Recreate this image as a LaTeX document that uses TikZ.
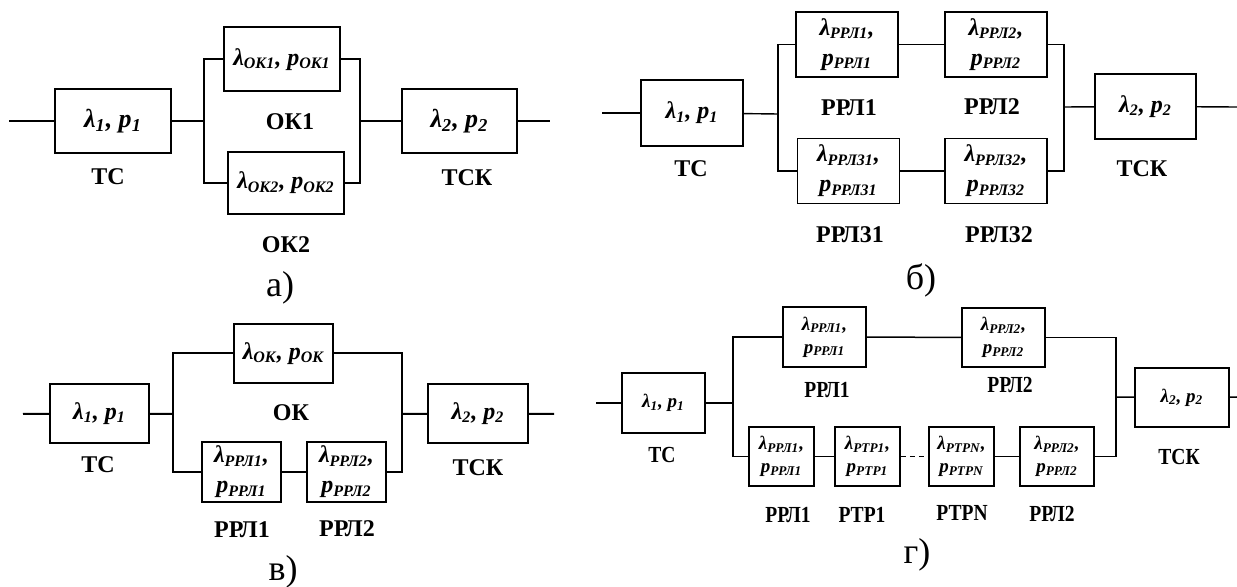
\documentclass[tikz,border=0pt]{standalone}
\usepackage{fontspec}
\setmainfont{Liberation Serif}
\newfontfamily\narrowrm[FakeStretch=0.85]{Liberation Serif}

\newcommand{\lampr}[1]{λ\textsubscript{#1}, p\textsubscript{#1}}
\newcommand{\lamprr}[1]{λ\textsubscript{#1},\\ p\textsubscript{#1}}

\tikzset{
  blk/.style 2 args={draw, line width=1pt, minimum width=#1, minimum height=#2,
    inner sep=1pt, align=center, font=\fontsize{12}{15}\selectfont\bfseries\itshape},
  wire/.style={line width=1pt},
  lbl/.style={font=\fontsize{12}{14}\selectfont\bfseries, inner sep=0pt},
  subcap/.style={font=\fontsize{18}{20}\selectfont, inner sep=0pt},
}

\begin{document}
\begin{tikzpicture}[x=0.5pt,y=-0.5pt]
\useasboundingbox (0,0) rectangle (1237,587);

% a)
\coordinate (a-in) at (9,121);
\coordinate (a-sl) at (204,121);
\coordinate (a-sr) at (360,121);
\coordinate (a-out) at (550,121);
\node[blk={58pt}{32pt}, font=\fontsize{13}{15}\selectfont\bfseries\itshape] (a-ts) at (113,121) {\lampr{1}};
\node[blk={58pt}{32pt}] (a-ok1) at (282,59.5) {\lampr{ОК1}};
\node[blk={58pt}{31pt}] (a-ok2) at (286,183) {\lampr{ОК2}};
\node[blk={57.5pt}{32pt}, font=\fontsize{13}{15}\selectfont\bfseries\itshape] (a-tsk) at (459.5,121) {\lampr{2}};

\draw[wire] (a-in) -- (a-ts);
\draw[wire] (a-ts) -- (a-sl);
\draw[wire] (a-ok1.west) -| (a-sl) |- (a-ok2.west);
\draw[wire] (a-ok1.east) -| (a-sr) |- (a-ok2.east);
\draw[wire] (a-sr) -- (a-tsk);
\draw[wire] (a-tsk) -- (a-out);

\node[lbl] (a-ts-l) at (108,177) {ТС};
\node[lbl] (a-ok1-l) at (290,122) {ОК1};
\node[lbl] (a-ok2-l) at (286,245) {ОК2};
\node[lbl] (a-tsk-l) at (467,178) {ТСК};
\node[subcap] (a-cap) at (280,288) {а)};

% b)
\coordinate (b-in) at (602,113);
\coordinate (b-sl) at (778,114);
\coordinate (b-sr) at (1064,107);
\coordinate (b-out) at (1237,107);
\node[blk={51pt}{33pt}, line width=0.85pt] (b-ts) at (692,113) {\lampr{1}};
\node[blk={51pt}{32.5pt}, line width=0.85pt] (b-r1) at (847,44.5) {\lamprr{РРЛ1}};
\node[blk={51pt}{32.5pt}, line width=0.85pt] (b-r2) at (996,44.5) {\lamprr{РРЛ2}};
\node[blk={51pt}{32.5pt}, line width=0.85pt] (b-r31) at (848.5,171) {\lamprr{РРЛ31}};
\node[blk={51pt}{32.5pt}, line width=0.85pt] (b-r32) at (996,171) {\lamprr{РРЛ32}};
\node[blk={50.5pt}{32.5pt}, line width=0.85pt] (b-tsk) at (1145.5,106.5) {\lampr{2}};

\draw[wire, line width=0.7pt] (b-in) -- (b-ts);
\draw[wire, line width=0.7pt] (b-ts) -- (b-sl);
\draw[wire, line width=0.7pt] (b-r1.west) -| (b-sl) |- (b-r31.west);
\draw[wire, line width=0.7pt] (b-r1) -- (b-r2);
\draw[wire, line width=0.7pt] (b-r31) -- (b-r32);
\draw[wire, line width=0.7pt] (b-r2.east) -| (b-sr) |- (b-r32.east);
\draw[wire, line width=0.7pt] (b-sr) -- (b-tsk);
\draw[wire, line width=0.7pt] (b-tsk) -- (b-out);

\node[lbl] (b-ts-l) at (691,169) {ТС};
\node[lbl] (b-r1-l) at (849,108) {РРЛ1};
\node[lbl] (b-r2-l) at (992,107) {РРЛ2};
\node[lbl] (b-r31-l) at (850,235) {РРЛ31};
\node[lbl] (b-r32-l) at (999,235) {РРЛ32};
\node[lbl] (b-tsk-l) at (1142,169) {ТСК};
\node[subcap] (b-cap) at (921,280) {б)};

% v)
\coordinate (c-in) at (23,414);
\coordinate (c-sl) at (173,414);
\coordinate (c-sr) at (402,414);
\coordinate (c-out) at (554,414);
\node[blk={49.5pt}{29.5pt}] (c-ts) at (99.5,413.5) {\lampr{1}};
\node[blk={49.5pt}{29.5pt}] (c-ok) at (283.5,353.5) {\lampr{ОК}};
\node[blk={39.5pt}{30pt}] (c-r1) at (241.5,472) {\lamprr{РРЛ1}};
\node[blk={39.5pt}{30pt}] (c-r2) at (346.5,472) {\lamprr{РРЛ2}};
\node[blk={50pt}{29.5pt}] (c-tsk) at (478,413.5) {\lampr{2}};

\draw[wire] (c-in) -- (c-ts);
\draw[wire] (c-ts) -- (c-sl);
\draw[wire] (c-ok.west) -| (c-sl) |- (c-r1.west);
\draw[wire] (c-r1) -- (c-r2);
\draw[wire] (c-ok.east) -| (c-sr) |- (c-r2.east);
\draw[wire] (c-sr) -- (c-tsk);
\draw[wire] (c-tsk) -- (c-out);

\node[lbl] (c-ts-l) at (98,465) {ТС};
\node[lbl] (c-ok-l) at (291,413) {ОК};
\node[lbl] (c-r1-l) at (242,530) {РРЛ1};
\node[lbl] (c-r2-l) at (347,529) {РРЛ2};
\node[lbl] (c-tsk-l) at (478,468) {ТСК};
\node[subcap] (c-cap) at (283,572) {в)};

% g)
\tikzset{gblk/.style={line width=0.8pt, font=\fontsize{9.5}{11.5}\selectfont\bfseries\itshape},
  glbl/.style={lbl, font=\narrowrm\fontsize{11.5}{13}\selectfont\bfseries}}
\coordinate (d-in) at (596,403);
\coordinate (d-sl) at (733,403);
\coordinate (d-sr) at (1116,397);
\coordinate (d-out) at (1237,397);
\node[blk={41.5pt}{30pt}, gblk] (d-ts) at (663.5,403) {\lampr{1}};
\node[blk={41.5pt}{30pt}, gblk] (d-t1) at (824.5,337) {\lamprr{РРЛ1}};
\node[blk={41.5pt}{29.5pt}, gblk] (d-t2) at (1003.5,337.5) {\lamprr{РРЛ2}};
\node[blk={32.5pt}{29.5pt}, gblk] (d-b1) at (781.5,456.5) {\lamprr{РРЛ1}};
\node[blk={32.5pt}{29.5pt}, gblk] (d-b2) at (867.5,456.5) {\lamprr{РТР1}};
\node[blk={32.5pt}{29.5pt}, gblk] (d-b3) at (961.5,456.5) {\lamprr{РТРN}};
\node[blk={37pt}{29.5pt}, gblk] (d-b4) at (1057,456.5) {\lamprr{РРЛ2}};
\node[blk={47pt}{29.5pt}, gblk] (d-tsk) at (1182,397.5) {\lampr{2}};

\draw[wire, line width=0.75pt] (d-in) -- (d-ts);
\draw[wire, line width=0.75pt] (d-ts) -- (d-sl);
\draw[wire, line width=0.75pt] (d-t1.west) -| (d-sl) |- (d-b1.west);
\draw[wire, line width=0.75pt] (d-t1) -- (d-t2);
\draw[wire, line width=0.75pt] (d-b1) -- (d-b2);
\draw[wire, line width=0.75pt, dash pattern=on 2.5pt off 2pt] (d-b2) -- (d-b3);
\draw[wire, line width=0.75pt] (d-b3) -- (d-b4);
\draw[wire, line width=0.75pt] (d-t2.east) -| (d-sr) |- (d-b4.east);
\draw[wire, line width=0.75pt] (d-sr) -- (d-tsk);
\draw[wire, line width=0.75pt] (d-tsk) -- (d-out);

\node[glbl] (d-ts-l) at (662,455) {ТС};
\node[glbl] (d-t1-l) at (827,390) {РРЛ1};
\node[glbl] (d-t2-l) at (1010,385) {РРЛ2};
\node[glbl] (d-b1-l) at (788,515) {РРЛ1};
\node[glbl] (d-b2-l) at (862,515) {РТР1};
\node[glbl] (d-b3-l) at (962,513) {РТРN};
\node[glbl] (d-b4-l) at (1052,514) {РРЛ2};
\node[glbl] (d-tsk-l) at (1179,457) {ТСК};
\node[subcap] (d-cap) at (917,555) {г)};

\end{tikzpicture}
\end{document}
